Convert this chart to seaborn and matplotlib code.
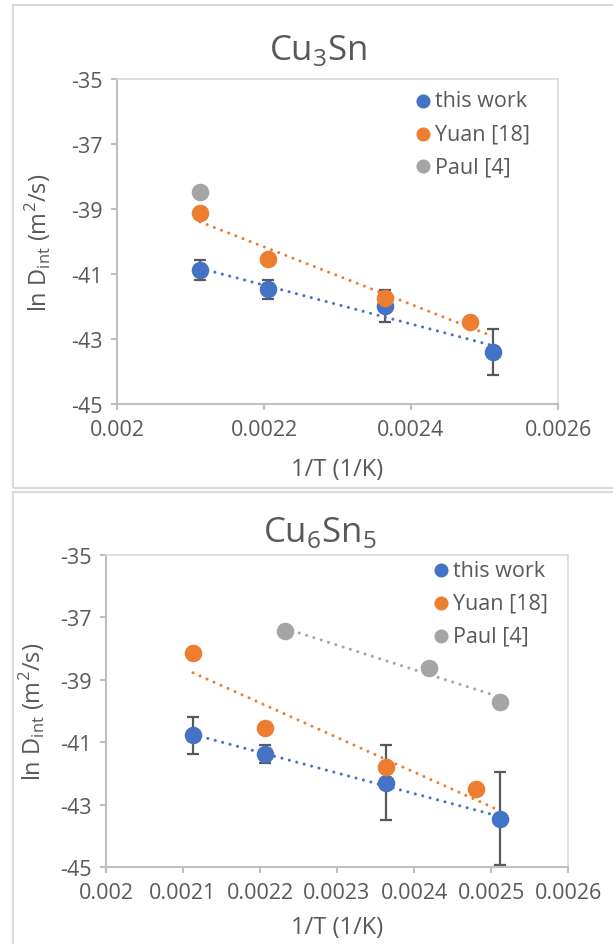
import numpy as np
import pandas as pd
import matplotlib
matplotlib.use("Agg")
import matplotlib.pyplot as plt
from matplotlib.patches import Rectangle
import seaborn as sns

# 1/T values (1/K) and ln D_int values
x_this = [0.002113, 0.002206, 0.002364, 0.002512]
x_yuan = [0.002113, 0.002206, 0.002364, 0.00248]

lnD_this_cu3sn = [-40.88, -41.47, -41.98, -43.40]
err_this_cu3sn = [0.30, 0.30, 0.50, 0.70]
lnD_yuan_cu3sn = [-39.12, -40.53, -41.75, -42.47]
x_paul_cu3sn = [0.002113]
lnD_paul_cu3sn = [-38.47]

lnD_this_cu6sn5 = [-40.78, -41.38, -42.30, -43.45]
err_this_cu6sn5 = [0.60, 0.30, 1.20, 1.50]
lnD_yuan_cu6sn5 = [-38.14, -40.56, -41.78, -42.50]
x_paul_cu6sn5 = [0.002232, 0.00242, 0.002512]
lnD_paul_cu6sn5 = [-37.42, -38.62, -39.70]

series_names = ["this work", "Yuan [18]", "Paul [4]"]
series_colors = ["#4472C4", "#ED7D31", "#A5A5A5"]

yticks = [-35, -37, -39, -41, -43, -45]
xticks_top = [0.002, 0.0022, 0.0024, 0.0026]
xticklabels_top = ["0.002", "0.0022", "0.0024", "0.0026"]
xticks_bot = [0.002, 0.0021, 0.0022, 0.0023, 0.0024, 0.0025, 0.0026]
xticklabels_bot = ["0.002", "0.0021", "0.0022", "0.0023", "0.0024", "0.0025", "0.0026"]

sns.set_theme(style="white")
plt.rcParams["font.family"] = ["Open Sans", "DejaVu Sans"]
plt.rcParams["mathtext.fontset"] = "custom"
plt.rcParams["mathtext.rm"] = "Open Sans"
txt = "#595959"

fig = plt.figure(figsize=(6.13, 9.45), dpi=100)

# chart-area borders (Excel style)
fig.add_artist(Rectangle((13 / 613, 1 - 489 / 945), 1.0, (489 - 6) / 945,
                         fill=False, ec="#D9D9D9", lw=1.5))
fig.add_artist(Rectangle((13 / 613, -0.1), 1.0, 0.1 + (945 - 493) / 945,
                         fill=False, ec="#D9D9D9", lw=1.5))

ax1 = fig.add_axes([117 / 613, 1 - 405 / 945, 441 / 613, 325 / 945])
ax2 = fig.add_axes([106 / 613, 1 - 868 / 945, 462 / 613, 312 / 945])


def trend(ax, x, y, color, forward=0.0):
    k, b = np.polyfit(x, y, 1)
    xs = np.array([min(x), max(x) + forward])
    ax.plot(xs, k * xs + b, color=color, lw=2.2, ls=(0, (0.01, 2.5)),
            dash_capstyle="round", zorder=2.5)


def panel(ax, lnD_this, err_this, lnD_yuan, x_paul, lnD_paul, xt, xtl, legpos):
    ax.errorbar(x_this, lnD_this, yerr=err_this, fmt="none", ecolor=txt,
                elinewidth=1.6, capsize=4.5, capthick=1.6, zorder=2)
    df_this = pd.DataFrame({"x": x_this, "y": lnD_this})
    df_yuan = pd.DataFrame({"x": x_yuan, "y": lnD_yuan})
    df_paul = pd.DataFrame({"x": x_paul, "y": lnD_paul})
    for df, name, c in zip([df_this, df_yuan, df_paul], series_names, series_colors):
        sns.scatterplot(data=df, x="x", y="y", ax=ax, color=c, s=160,
                        linewidth=0, label=name, zorder=3)
    trend(ax, x_this, lnD_this, series_colors[0])
    trend(ax, x_yuan, lnD_yuan, series_colors[1], forward=0.00003)
    if len(x_paul) > 1:
        trend(ax, x_paul, lnD_paul, series_colors[2])

    ax.set_xlim(0.002, 0.0026)
    ax.set_ylim(-45, -35)
    ax.set_xticks(xt)
    ax.set_xticklabels(xtl)
    ax.set_yticks(yticks)
    ax.set_yticklabels([str(v) for v in yticks])
    ax.tick_params(axis="both", which="both", direction="out", length=4.5,
                   width=1.5, color="#BFBFBF", labelsize=15.5, labelcolor=txt,
                   pad=6, bottom=True, left=True)
    for side in ["left", "bottom"]:
        ax.spines[side].set_color("#BFBFBF")
        ax.spines[side].set_linewidth(1.5)
    for side in ["top", "right"]:
        ax.spines[side].set_color("#D9D9D9")
        ax.spines[side].set_linewidth(1.2)
    ax.set_xlabel("1/T (1/K)", fontsize=17, color=txt)
    ax.set_ylabel(r"ln D$_\mathregular{int}$ (m$^\mathregular{2}$/s)",
                  fontsize=17, color=txt)
    leg = ax.legend(loc="upper left", bbox_to_anchor=legpos, frameon=False,
                    fontsize=15.5, handlelength=0.6, handletextpad=0.25,
                    labelspacing=0.55, borderpad=0, borderaxespad=0,
                    markerscale=0.8)
    for t in leg.get_texts():
        t.set_color(txt)


panel(ax1, lnD_this_cu3sn, err_this_cu3sn, lnD_yuan_cu3sn, x_paul_cu3sn,
      lnD_paul_cu3sn, xticks_top, xticklabels_top, (0.68, 0.965))
panel(ax2, lnD_this_cu6sn5, err_this_cu6sn5, lnD_yuan_cu6sn5, x_paul_cu6sn5,
      lnD_paul_cu6sn5, xticks_bot, xticklabels_bot, (0.712, 0.985))

ax1.yaxis.set_label_coords(-63 / 441, 0.5)
ax1.xaxis.set_label_coords(0.5, -53 / 325)
ax2.yaxis.set_label_coords(-58 / 462, 0.5)
ax2.xaxis.set_label_coords(0.5, -48 / 312)

fig.text(318 / 613, 1 - 50 / 945, r"Cu$_\mathregular{3}$Sn", fontsize=25,
         color=txt, ha="center", va="center")
fig.text(320 / 613, 1 - 533 / 945, r"Cu$_\mathregular{6}$Sn$_\mathregular{5}$",
         fontsize=25, color=txt, ha="center", va="center")

fig.savefig("out.png", dpi=100)
